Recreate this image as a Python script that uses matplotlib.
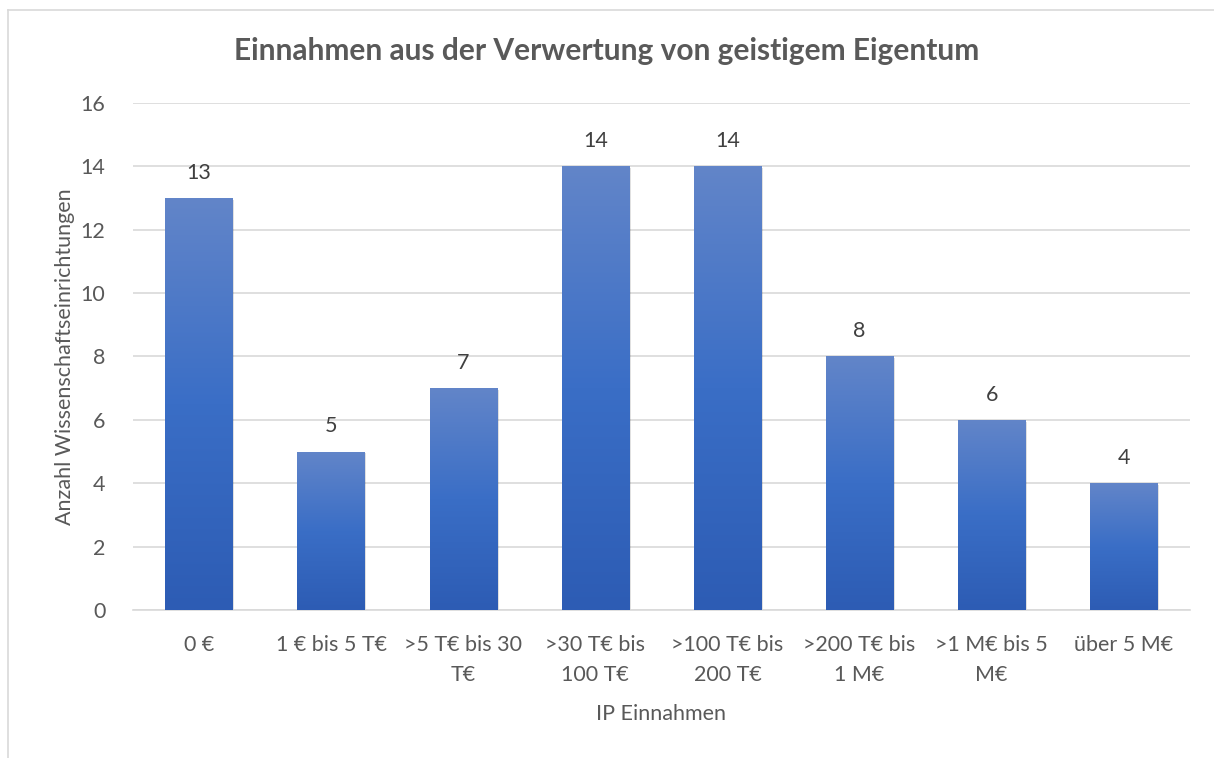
import numpy as np
import matplotlib.pyplot as plt
from matplotlib.colors import LinearSegmentedColormap
from matplotlib.patches import Rectangle
from matplotlib.lines import Line2D

categories = ["0 €", "1 € bis 5 T€", ">5 T€ bis 30\nT€", ">30 T€ bis\n100 T€",
              ">100 T€ bis\n200 T€", ">200 T€ bis\n1 M€", ">1 M€ bis 5\nM€", "über 5 M€"]
counts = [13, 5, 7, 14, 14, 8, 6, 4]
y_ticks = [0, 2, 4, 6, 8, 10, 12, 14, 16]

plt.rcParams['font.family'] = ['Lato', 'DejaVu Sans']
text_color = '#595959'
grid_color = '#D9D9D9'
fs = 15.5

fig = plt.figure(figsize=(12.14, 7.58), dpi=100)
ax = fig.add_axes([0.1096, 0.1953, 0.8704, 0.6688])

# outer chart border (left and top visible)
fig.add_artist(Line2D([8 / 1214, 8 / 1214], [0, 1 - 10 / 758], color=grid_color, lw=1.2))
fig.add_artist(Line2D([8 / 1214, 1], [1 - 10 / 758, 1 - 10 / 758], color=grid_color, lw=1.2))

grad = LinearSegmentedColormap.from_list('bar', ['#2D5CB4', '#3A6EC6', '#6285C9'])
x = np.arange(len(categories))
width = 0.51
bars = ax.bar(x, counts, width=width, color='none', zorder=3)
img = np.linspace(0, 1, 256).reshape(-1, 1)
for b in bars:
    x0, y0 = b.get_x(), b.get_y()
    w, h = b.get_width(), b.get_height()
    # soft shadow
    ax.add_patch(Rectangle((x0 + 0.012, y0 - 0.06), w, h, facecolor='#000000',
                           alpha=0.12, lw=0, zorder=2))
    im = ax.imshow(img, cmap=grad, origin='lower', aspect='auto',
                   extent=[x0, x0 + w, y0, y0 + h], zorder=3)
    im.set_clip_path(b)

for xi, v in zip(x, counts):
    ax.text(xi, v + 0.8, str(v), ha='center', va='center', fontsize=fs, color='#404040')

ax.set_xlim(-0.5, len(categories) - 0.5)
ax.set_ylim(0, 16)
ax.set_yticks(y_ticks)
ax.set_xticks(x)
ax.set_xticklabels(categories, fontsize=fs, color=text_color, linespacing=1.6)
ax.tick_params(axis='y', labelsize=fs, labelcolor=text_color, length=0, pad=20)
ax.tick_params(axis='x', length=0, pad=18)
ax.yaxis.grid(True, color=grid_color, lw=1.2, zorder=0)
ax.set_axisbelow(True)
for s in ['top', 'right', 'left']:
    ax.spines[s].set_visible(False)
ax.spines['bottom'].set_color(grid_color)
ax.spines['bottom'].set_linewidth(1.2)

ax.set_ylabel('Anzahl Wissenschaftseinrichtungen', fontsize=fs, color=text_color, labelpad=4)
ax.set_xlabel('IP Einnahmen', fontsize=fs, color=text_color, labelpad=14)
fig.text(0.5, 1 - 51 / 758, 'Einnahmen aus der Verwertung von geistigem Eigentum',
         ha='center', va='center', fontsize=21.5, fontweight='bold', color=text_color)

fig.savefig('out.png', dpi=100)
